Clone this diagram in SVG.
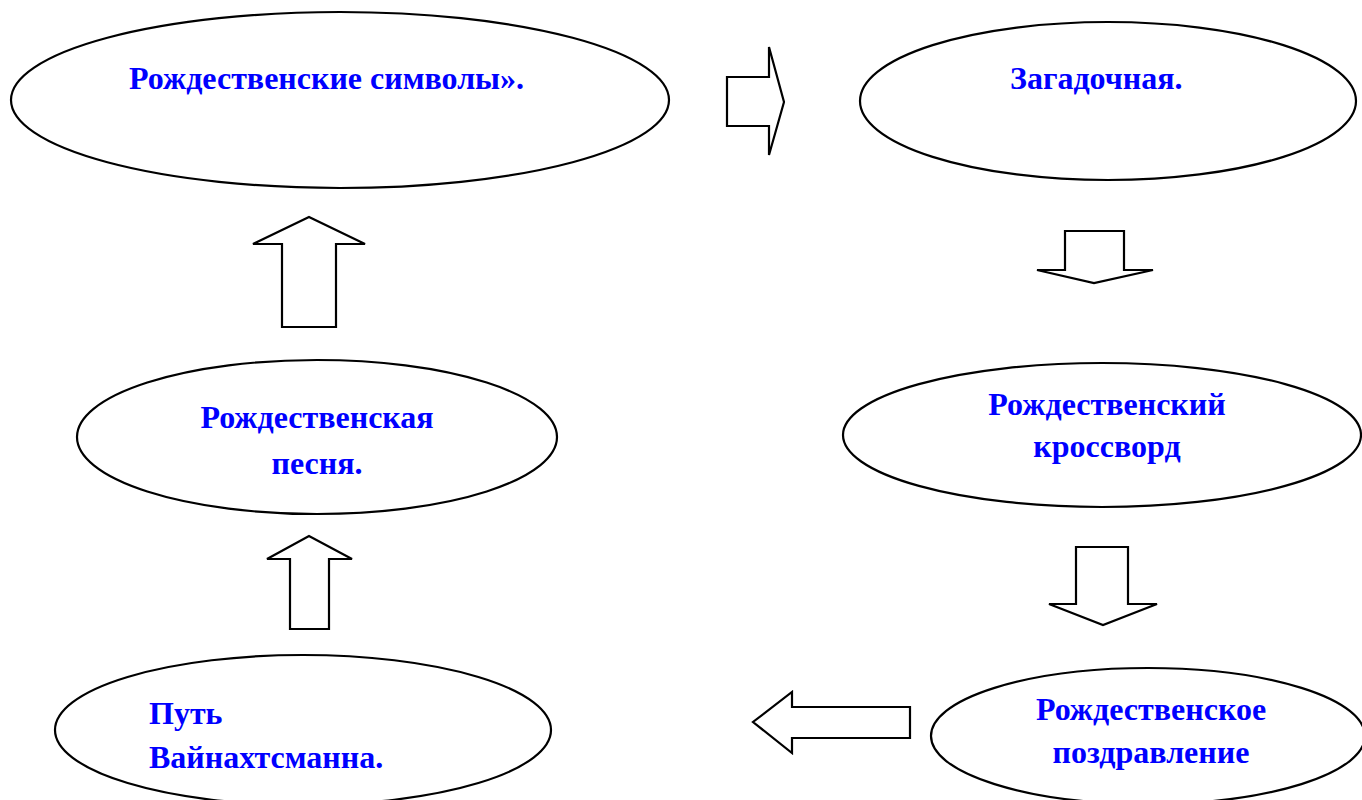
<svg xmlns="http://www.w3.org/2000/svg" width="1362" height="800" viewBox="0 0 1362 800">
<style>
.n{fill:#fff;stroke:#000;stroke-width:2.2}
.a{fill:#fff;stroke:#000;stroke-width:2.2;stroke-linejoin:miter}
.t{font-family:"Liberation Serif","Times New Roman",serif;font-weight:bold;font-size:32px;fill:#0000FF}
.c{text-anchor:middle}
</style>
<rect width="1362" height="800" fill="#fff"/>
<g id="connectors">
<polygon class="a" points="727,77 769,77 769,47 784,102 769,155 769,126 727,126"/>
<polygon class="a" points="1065,231 1124,231 1124,270 1153,270 1094,283 1037,270 1065,270"/>
<polygon class="a" points="1076,547 1128,547 1128,604 1157,604 1103,625 1049,604 1076,604"/>
<polygon class="a" points="910,707 792,707 792,692 753,722 792,753 792,738 910,738"/>
<polygon class="a" points="282,327 282,244 253,244 309,217 365,244 336,244 336,327"/>
<polygon class="a" points="290,629 290,559 267,559 309,536 352,559 329,559 329,629"/>
</g>
<g id="n1">
<ellipse class="n" cx="340" cy="100" rx="329" ry="88"/>
<text class="t" x="129" y="89">Рождественские символы».</text>
</g>
<g id="n2">
<ellipse class="n" cx="1108" cy="101" rx="248" ry="79"/>
<text class="t" x="1010" y="89">Загадочная.</text>
</g>
<g id="n3">
<ellipse class="n" cx="1102" cy="435" rx="259" ry="72"/>
<text class="t c" x="1107" y="415">Рождественский</text>
<text class="t c" x="1107" y="457">кроссворд</text>
</g>
<g id="n4">
<ellipse class="n" cx="1148" cy="736" rx="217" ry="68"/>
<text class="t c" x="1151" y="720">Рождественское</text>
<text class="t c" x="1151" y="763">поздравление</text>
</g>
<g id="n5">
<ellipse class="n" cx="317" cy="437" rx="240" ry="77"/>
<text class="t c" x="317" y="428">Рождественская</text>
<text class="t c" x="317" y="474">песня.</text>
</g>
<g id="n6">
<ellipse class="n" cx="303" cy="730" rx="248" ry="75"/>
<text class="t" x="149" y="724">Путь</text>
<text class="t" x="149" y="768">Вайнахтсманна.</text>
</g>
</svg>
